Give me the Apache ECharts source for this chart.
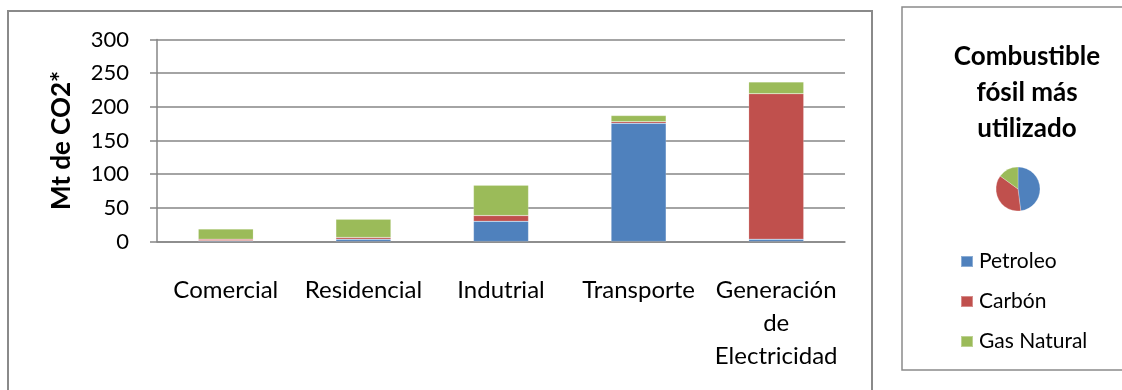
<!DOCTYPE html>
<html>
<head>
<meta charset="utf-8">
<script src="https://cdn.jsdelivr.net/npm/echarts@6/dist/echarts.min.js"></script>
<style>
  html, body { margin: 0; padding: 0; background: #fff; }
  #chart { width: 1122px; height: 390px; }
</style>
</head>
<body>
<div id="chart"></div>
<script>
// Emisiones por sector (Mt de CO2*), apiladas por combustible
const sectores = ['Comercial', 'Residencial', 'Indutrial', 'Transporte', 'Generación de Electricidad'];
const petroleo = [1, 3.5, 30, 175.5, 3.5];
const carbon = [2.5, 2.5, 8.5, 2.5, 216];
const gasNatural = [15, 27, 45, 9, 17.5];

// Participación de cada combustible (gráfico circular)
const combustibles = ['Petroleo', 'Carbón', 'Gas Natural'];
const participacion = [48, 37, 15];

const yTicks = [0, 50, 100, 150, 200, 250, 300];
const colores = ['#4F81BD', '#C0504D', '#9BBB59'];

const FONT = 'Lato, "Open Sans", sans-serif';
const chart = echarts.init(document.getElementById('chart'));

const barSeries = [petroleo, carbon, gasNatural].map((vals, i) => ({
  name: combustibles[i],
  type: 'bar',
  stack: 'total',
  barWidth: '40%',
  data: vals,
  itemStyle: { color: colores[i], borderColor: 'rgba(255,255,255,0.35)', borderWidth: 0.5 },
  z: 3
}));

chart.setOption({
  animation: false,
  color: colores,
  textStyle: { fontFamily: FONT },
  graphic: [
    { type: 'rect', shape: { x: 8, y: 11, width: 864, height: 400 },
      style: { fill: 'none', stroke: '#8a8a8a', lineWidth: 2 }, z: 0 },
    { type: 'rect', shape: { x: 902, y: 7, width: 240, height: 363 },
      style: { fill: 'none', stroke: '#8a8a8a', lineWidth: 1.5 }, z: 0 }
  ],
  title: {
    text: 'Combustible\nfósil más\nutilizado',
    left: 1022, top: 34, textAlign: 'center',
    textStyle: { fontFamily: FONT, fontSize: 26, fontWeight: 'bold', color: '#000', lineHeight: 36 }
  },
  legend: {
    data: combustibles,
    orient: 'vertical',
    left: 955, top: 246,
    itemWidth: 12, itemHeight: 11, itemGap: 19,
    icon: 'rect',
    textStyle: { fontFamily: FONT, fontSize: 21, color: '#000', padding: [0, 0, 0, 1] }
  },
  grid: { left: 157, right: 277, top: 39.5, bottom: 148.5, containLabel: false },
  xAxis: {
    type: 'category',
    data: sectores,
    axisLine: { lineStyle: { color: '#868686', width: 1.5 } },
    axisTick: { length: 7, lineStyle: { color: '#868686', width: 1.5 } },
    axisLabel: {
      margin: 32, color: '#000', fontFamily: FONT, fontSize: 24, lineHeight: 33,
      interval: 0,
      formatter: v => v.split(' ').join('\n')
    }
  },
  yAxis: {
    type: 'value',
    min: yTicks[0], max: yTicks[yTicks.length - 1], interval: yTicks[1] - yTicks[0],
    name: 'Mt de CO2*', nameLocation: 'middle', nameGap: 82, nameRotate: 90,
    nameTextStyle: { fontFamily: FONT, fontSize: 26, fontWeight: 'bold', color: '#000' },
    axisLine: { show: true, lineStyle: { color: '#868686', width: 1.5 } },
    axisTick: { show: true, length: 7, lineStyle: { color: '#868686', width: 1.5 } },
    axisLabel: { margin: 28, color: '#000', fontFamily: FONT, fontSize: 22 },
    splitLine: { lineStyle: { color: '#868686', width: 1.5 } }
  },
  series: [
    ...barSeries,
    {
      type: 'pie',
      center: [1018, 189],
      radius: 22,
      startAngle: 90,
      label: { show: false },
      labelLine: { show: false },
      itemStyle: { borderColor: 'rgba(255,255,255,0.5)', borderWidth: 0.5 },
      data: combustibles.map((n, i) => ({ name: n, value: participacion[i], itemStyle: { color: colores[i] } }))
    }
  ]
});
</script>
</body>
</html>
